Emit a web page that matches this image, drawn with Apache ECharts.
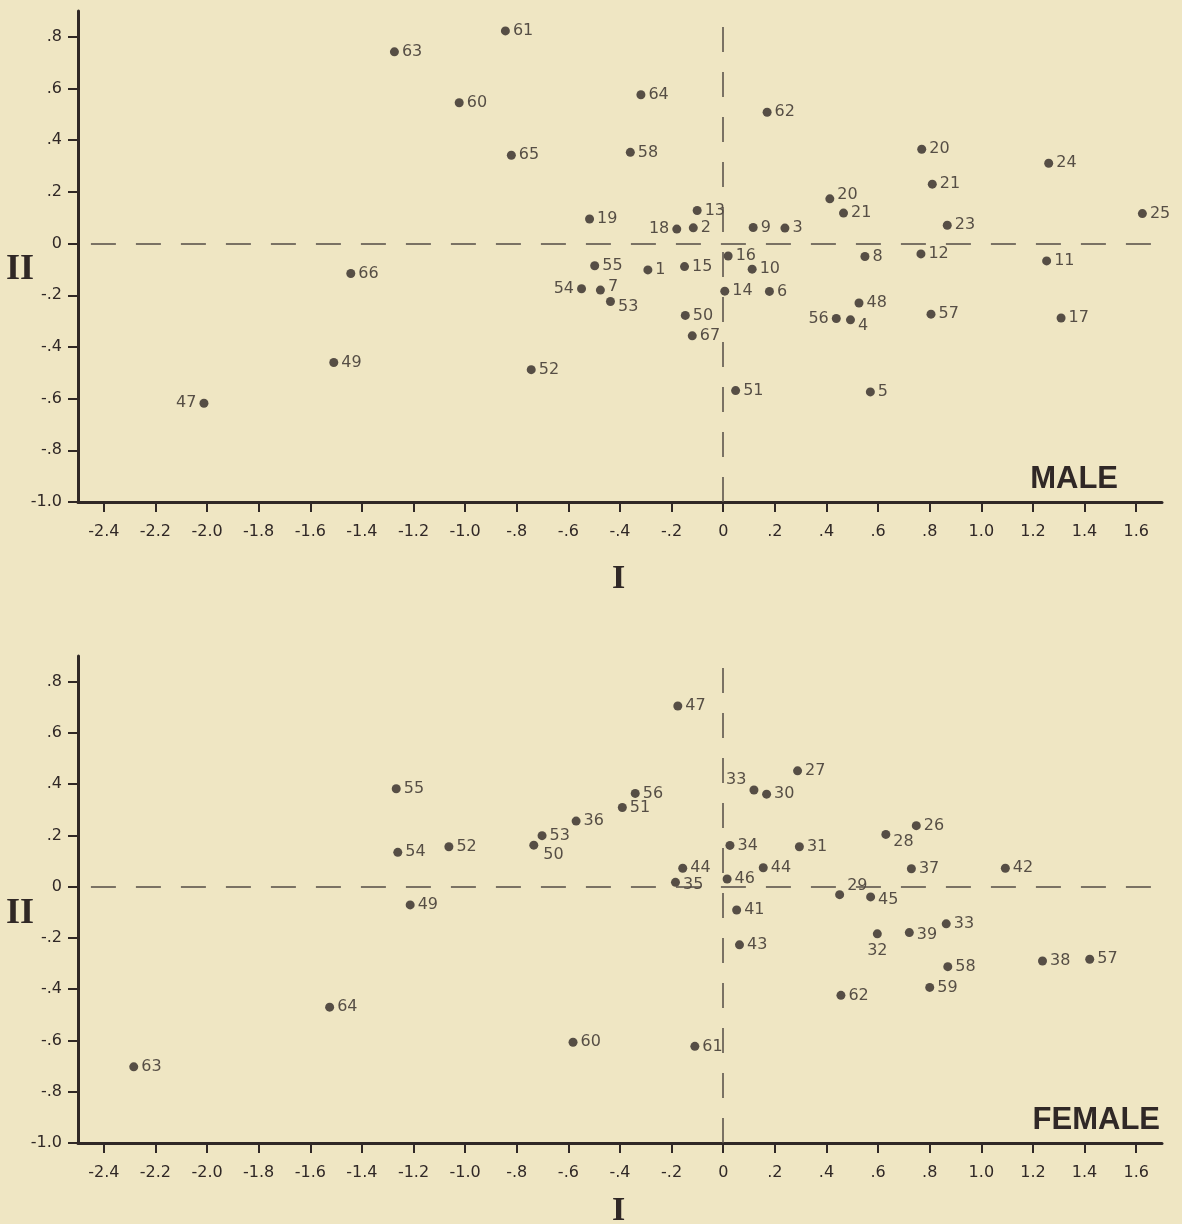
<!DOCTYPE html>
<html>
<head>
<meta charset="utf-8">
<script src="https://cdn.jsdelivr.net/npm/echarts@6/dist/echarts.min.js"></script>
<style>
  html, body { margin: 0; padding: 0; background: #efe6c3; }
  #chart { width: 1182px; height: 1224px; }
</style>
</head>
<body>
<div id="chart"></div>
<script>
// tick values and their printed labels
const xTicks = [-2.4, -2.2, -2.0, -1.8, -1.6, -1.4, -1.2, -1.0, -0.8, -0.6, -0.4, -0.2, 0, 0.2, 0.4, 0.6, 0.8, 1.0, 1.2, 1.4, 1.6];
const xTickText = ['-2.4', '-2.2', '-2.0', '-1.8', '-1.6', '-1.4', '-1.2', '-1.0', '-.8', '-.6', '-.4', '-.2', '0', '.2', '.4', '.6', '.8', '1.0', '1.2', '1.4', '1.6'];
const yTicks = [-1.0, -0.8, -0.6, -0.4, -0.2, 0, 0.2, 0.4, 0.6, 0.8];
const yTickText = ['-1.0', '-.8', '-.6', '-.4', '-.2', '0', '.2', '.4', '.6', '.8'];

// MALE
const maleIds = ['61', '63', '60', '64', '62', '65', '58', '19', '13', '18', '2', '9', '3', '16', '55', '1', '15', '10', '54', '7', '53', '14', '6', '50', '67', '66', '49', '52', '51', '47', '8', '12', '11', '48', '56', '4', '57', '17', '5', '20', '21', '20', '21', '23', '24', '25'];
const maleI = [-0.844, -1.274, -1.023, -0.319, 0.170, -0.821, -0.360, -0.518, -0.101, -0.180, -0.116, 0.116, 0.239, 0.019, -0.498, -0.292, -0.150, 0.112, -0.549, -0.476, -0.437, 0.006, 0.179, -0.147, -0.120, -1.443, -1.509, -0.744, 0.048, -2.012, 0.549, 0.766, 1.253, 0.526, 0.438, 0.493, 0.805, 1.309, 0.570, 0.769, 0.810, 0.413, 0.466, 0.868, 1.261, 1.624];
const maleII = [0.823, 0.742, 0.545, 0.576, 0.508, 0.342, 0.353, 0.095, 0.128, 0.056, 0.061, 0.062, 0.060, -0.048, -0.086, -0.102, -0.089, -0.099, -0.175, -0.180, -0.224, -0.184, -0.185, -0.278, -0.357, -0.116, -0.460, -0.488, -0.569, -0.618, -0.050, -0.040, -0.067, -0.230, -0.290, -0.295, -0.273, -0.288, -0.574, 0.365, 0.230, 0.173, 0.118, 0.071, 0.311, 0.116];

// FEMALE
const femaleIds = ['55', '54', '49', '52', '47', '27', '33', '30', '56', '51', '36', '53', '50', '34', '31', '44', '44', '35', '46', '41', '43', '26', '28', '37', '42', '29', '45', '32', '39', '33', '58', '38', '57', '59', '62', '64', '63', '60', '61'];
const femaleI = [-1.267, -1.261, -1.213, -1.063, -0.176, 0.288, 0.119, 0.168, -0.341, -0.391, -0.570, -0.702, -0.734, 0.026, 0.295, -0.157, 0.155, -0.185, 0.015, 0.052, 0.063, 0.748, 0.630, 0.729, 1.093, 0.451, 0.571, 0.597, 0.721, 0.864, 0.870, 1.237, 1.420, 0.800, 0.456, -1.525, -2.284, -0.582, -0.110];
const femaleII = [0.382, 0.134, -0.071, 0.156, 0.705, 0.452, 0.377, 0.361, 0.364, 0.309, 0.256, 0.199, 0.162, 0.161, 0.156, 0.072, 0.074, 0.017, 0.030, -0.091, -0.227, 0.238, 0.204, 0.070, 0.072, -0.031, -0.040, -0.184, -0.179, -0.145, -0.312, -0.290, -0.283, -0.393, -0.424, -0.470, -0.703, -0.607, -0.623];

// label placement tweaks, keyed "id#occurrence"
const maleLabelTweaks = {
  '18#1': { position: 'left' },
  '54#1': { position: 'left' },
  '47#1': { position: 'left' },
  '56#1': { position: 'left' },
  '53#1': { offset: [0, 5] },
  '4#1': { offset: [0, 6] },
  '7#1': { offset: [0, -3] },
  '20#2': { offset: [0, -4] }
};
const femaleLabelTweaks = {
  '33#1': { position: 'left', offset: [0, -10] },
  '50#1': { offset: [2, 10] },
  '28#1': { offset: [0, 7] },
  '29#1': { offset: [0, -9] },
  '32#1': { position: 'bottom', distance: 4 },
  '35#1': { offset: [0, 3] },
  '45#1': { offset: [0, 3] },
  '39#1': { offset: [0, 2] }
};

const ink = '#302826';
const font = '"DejaVu Sans", sans-serif';

function fmt(ticks, texts) {
  return function (v) {
    for (let i = 0; i < ticks.length; i++) {
      if (Math.abs(ticks[i] - v) < 1e-6) return texts[i];
    }
    return '';
  };
}

function xAx(gi) {
  return {
    type: 'value', gridIndex: gi, min: -2.5, max: 1.7,
    axisLine: { onZero: false, lineStyle: { color: ink, width: 3 } },
    axisTick: { customValues: xTicks, length: 10, lineStyle: { color: ink, width: 2 } },
    axisLabel: { customValues: xTicks, formatter: fmt(xTicks, xTickText), margin: 22, fontSize: 16, color: ink, fontFamily: font },
    splitLine: { show: false }
  };
}

function yAx(gi) {
  return {
    type: 'value', gridIndex: gi, min: -1.0, max: 0.9,
    axisLine: { onZero: false, lineStyle: { color: ink, width: 3 } },
    axisTick: { customValues: yTicks, length: 10, lineStyle: { color: ink, width: 2 } },
    axisLabel: { customValues: yTicks, formatter: fmt(yTicks, yTickText), margin: 16, fontSize: 16, color: ink, fontFamily: font },
    splitLine: { show: false }
  };
}

function points(ids, xs, ys, tweaks) {
  const seen = {};
  return ids.map(function (id, i) {
    seen[id] = (seen[id] || 0) + 1;
    const t = tweaks[id + '#' + seen[id]];
    const d = { name: id, value: [xs[i], ys[i]] };
    if (t) d.label = t;
    return d;
  });
}

function series(gi, ids, xs, ys, tweaks, vTop) {
  return {
    type: 'scatter', xAxisIndex: gi, yAxisIndex: gi,
    symbolSize: 9,
    itemStyle: { color: ink },
    label: { show: true, position: 'right', distance: 3, formatter: '{b}', fontSize: 16, color: ink, fontFamily: font },
    emphasis: { disabled: true },
    data: points(ids, xs, ys, tweaks),
    markLine: {
      silent: true, symbol: 'none', label: { show: false }, animation: false,
      lineStyle: { type: [25, 20], color: '#544c46', width: 1.5 },
      emphasis: { disabled: true },
      data: [
        [{ coord: [-2.45, 0] }, { coord: [1.7, 0] }],
        [{ coord: [0, -1.0] }, { coord: [0, vTop] }]
      ]
    }
  };
}

const chart = echarts.init(document.getElementById('chart'));
chart.setOption({
  backgroundColor: '#efe6c3',
  animation: false,
  grid: [
    { left: 78, top: 11, width: 1084, height: 491 },
    { left: 78, top: 656, width: 1084, height: 487 }
  ],
  xAxis: [xAx(0), xAx(1)],
  yAxis: [yAx(0), yAx(1)],
  series: [
    series(0, maleIds, maleI, maleII, maleLabelTweaks, 0.9),
    series(1, femaleIds, femaleI, femaleII, femaleLabelTweaks, 0.87)
  ],
  graphic: [
    { type: 'text', left: 6, top: 252, style: { text: 'II', font: 'bold 36px "Liberation Serif", serif', fill: ink } },
    { type: 'text', left: 6, top: 896, style: { text: 'II', font: 'bold 36px "Liberation Serif", serif', fill: ink } },
    { type: 'text', left: 612, top: 562, style: { text: 'I', font: 'bold 34px "Liberation Serif", serif', fill: ink } },
    { type: 'text', left: 612, top: 1194, style: { text: 'I', font: 'bold 34px "Liberation Serif", serif', fill: ink } },
    { type: 'text', right: 64, top: 464, style: { text: 'MALE', font: 'bold 31px "Liberation Sans", Arial, sans-serif', fill: ink } },
    { type: 'text', right: 22, top: 1105, style: { text: 'FEMALE', font: 'bold 31px "Liberation Sans", Arial, sans-serif', fill: ink } }
  ]
});
</script>
</body>
</html>
